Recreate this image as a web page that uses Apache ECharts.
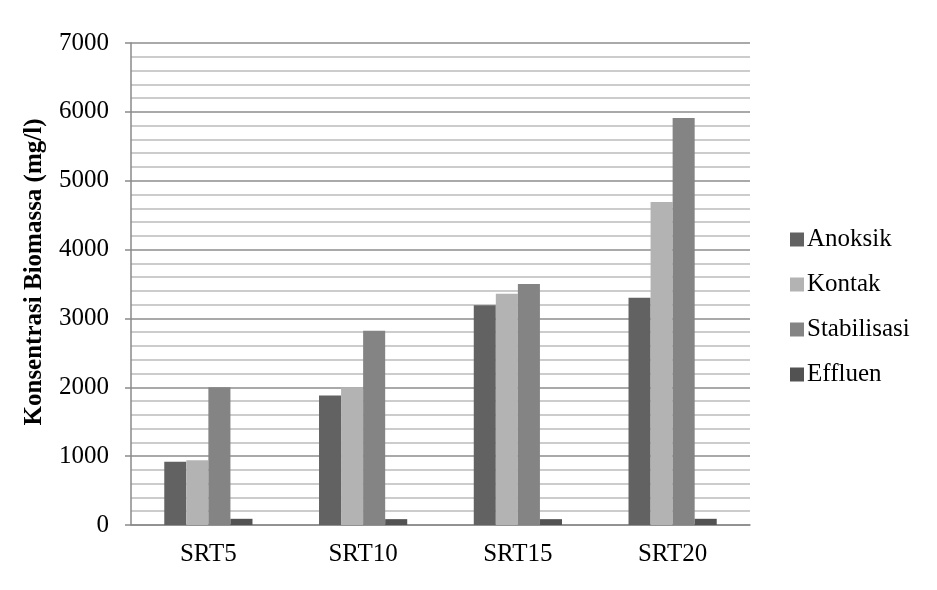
<!DOCTYPE html>
<html>
<head>
<meta charset="utf-8">
<script src="https://cdn.jsdelivr.net/npm/echarts@6/dist/echarts.min.js"></script>
<style>
  html, body { margin: 0; padding: 0; background: #fff; }
  #chart { width: 937px; height: 590px; }
</style>
</head>
<body>
<div id="chart"></div>
<script>
const categories = ['SRT5', 'SRT10', 'SRT15', 'SRT20'];
const anoksik = [920, 1880, 3190, 3300];
const kontak = [940, 2000, 3360, 4690];
const stabilisasi = [2000, 2820, 3500, 5910];
const effluen = [90, 85, 85, 90];

const font = 'Liberation Serif';

let chart = echarts.init(document.getElementById('chart'));

function bar(name, data, color) {
  return {
    name: name,
    type: 'bar',
    data: data,
    barGap: '0%',
    barCategoryGap: '43%',
    itemStyle: { color: color },
  };
}

let option = {
  animation: false,
  textStyle: { fontFamily: font },
  grid: { left: 131, right: 187, top: 43, bottom: 65 },
  legend: {
    orient: 'vertical',
    left: 785,
    top: 222,
    itemWidth: 14,
    itemHeight: 14,
    itemGap: 20,
    icon: 'rect',
    textStyle: { fontFamily: font, fontSize: 25, color: '#000', padding: [0, 0, 0, -2] },
    data: ['Anoksik', 'Kontak', 'Stabilisasi', 'Effluen'],
  },
  xAxis: {
    type: 'category',
    data: categories,
    axisLine: { lineStyle: { color: '#8a8a8a', width: 1.5 } },
    axisTick: { show: false },
    axisLabel: { fontFamily: font, fontSize: 25, color: '#000', margin: 17 },
  },
  yAxis: {
    type: 'value',
    min: 0,
    max: 7000,
    interval: 1000,
    name: 'Konsentrasi Biomassa (mg/l)',
    nameLocation: 'middle',
    nameGap: 84,
    nameTextStyle: {
      fontFamily: font, fontSize: 25, fontWeight: 'bold', color: '#000',
      padding: [0, 0, 0, 24],
    },
    axisLine: { show: true, lineStyle: { color: '#8a8a8a', width: 1.5 } },
    axisTick: { show: true, length: 6, lineStyle: { color: '#8a8a8a', width: 1.5 } },
    axisLabel: {
      fontFamily: font, fontSize: 25, color: '#000', margin: 22,
      formatter: function (v) { return String(v); },
    },
    splitLine: { show: true, lineStyle: { color: '#8c8c8c', width: 1.5 } },
    minorTick: { show: false, splitNumber: 5 },
    minorSplitLine: { show: true, lineStyle: { color: '#bcbcbc', width: 1.5 } },
  },
  series: [
    bar('Anoksik', anoksik, '#626262'),
    bar('Kontak', kontak, '#b3b3b3'),
    bar('Stabilisasi', stabilisasi, '#848484'),
    bar('Effluen', effluen, '#525252'),
  ],
};

chart.setOption(option);
</script>
</body>
</html>
